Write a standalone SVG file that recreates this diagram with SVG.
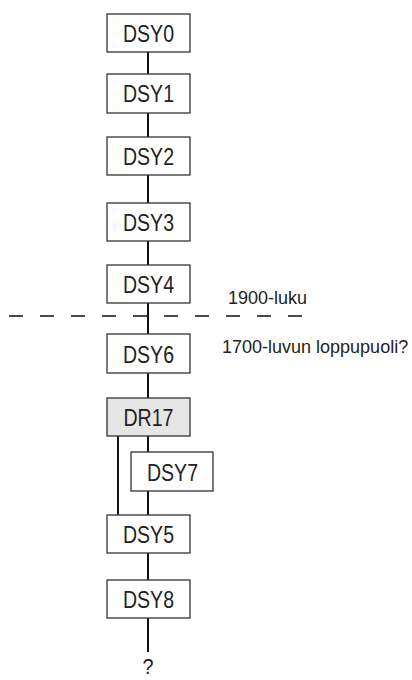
<svg xmlns="http://www.w3.org/2000/svg" width="412" height="680" viewBox="0 0 412 680">
<style>
.box{fill:#fff;stroke:#333;stroke-width:1.3}
.gray{fill:#e6e6e6}
.lbl{font-family:"Liberation Sans",Arial,sans-serif;font-size:24px;fill:#222;text-anchor:middle}
.note{font-family:"Liberation Sans",Arial,sans-serif;font-size:18px;fill:#222}
.q{font-family:"Liberation Sans",Arial,sans-serif;font-size:22px;fill:#222;text-anchor:middle}
.ln{stroke:#111;stroke-width:2;fill:none}
</style>
<rect width="412" height="680" fill="#fff"/>
<g id="connectors">
<line class="ln" x1="148" y1="52" x2="148" y2="74"/>
<line class="ln" x1="148" y1="113" x2="148" y2="137"/>
<line class="ln" x1="148" y1="175" x2="148" y2="203"/>
<line class="ln" x1="148" y1="241" x2="148" y2="265"/>
<line class="ln" x1="148" y1="303" x2="148" y2="334"/>
<line class="ln" x1="148" y1="373" x2="148" y2="398"/>
<line class="ln" x1="148" y1="436" x2="148" y2="452"/>
<line class="ln" x1="148" y1="491" x2="148" y2="515"/>
<line class="ln" x1="118" y1="436" x2="118" y2="515"/>
<line class="ln" x1="148" y1="553" x2="148" y2="580"/>
<line class="ln" x1="148" y1="618" x2="148" y2="652"/>
</g>
<g id="divider">
<line x1="9" y1="316" x2="304" y2="316" stroke="#111" stroke-width="1.6" stroke-dasharray="14 17"/>
<text class="note" x="228" y="304">1900-luku</text>
<text class="note" x="222" y="353">1700-luvun loppupuoli?</text>
</g>
<g id="DSY0"><rect class="box" x="107" y="14" width="83" height="38"/><text class="lbl" x="148.5" y="42" textLength="51" lengthAdjust="spacingAndGlyphs">DSY0</text></g>
<g id="DSY1"><rect class="box" x="107" y="74" width="83" height="39"/><text class="lbl" x="148.5" y="102" textLength="51" lengthAdjust="spacingAndGlyphs">DSY1</text></g>
<g id="DSY2"><rect class="box" x="107" y="137" width="83" height="38"/><text class="lbl" x="148.5" y="165" textLength="51" lengthAdjust="spacingAndGlyphs">DSY2</text></g>
<g id="DSY3"><rect class="box" x="107" y="203" width="83" height="38"/><text class="lbl" x="148.5" y="231" textLength="51" lengthAdjust="spacingAndGlyphs">DSY3</text></g>
<g id="DSY4"><rect class="box" x="107" y="265" width="83" height="38"/><text class="lbl" x="148.5" y="293" textLength="51" lengthAdjust="spacingAndGlyphs">DSY4</text></g>
<g id="DSY6"><rect class="box" x="107" y="334" width="83" height="39"/><text class="lbl" x="148.5" y="363" textLength="51" lengthAdjust="spacingAndGlyphs">DSY6</text></g>
<g id="DR17"><rect class="box gray" x="107" y="398" width="83" height="38"/><text class="lbl" x="148.5" y="426" textLength="50" lengthAdjust="spacingAndGlyphs">DR17</text></g>
<g id="DSY7"><rect class="box" x="131" y="452" width="82" height="39"/><text class="lbl" x="172.5" y="481" textLength="51" lengthAdjust="spacingAndGlyphs">DSY7</text></g>
<g id="DSY5"><rect class="box" x="107" y="515" width="83" height="38"/><text class="lbl" x="148.5" y="543" textLength="51" lengthAdjust="spacingAndGlyphs">DSY5</text></g>
<g id="DSY8"><rect class="box" x="107" y="580" width="83" height="38"/><text class="lbl" x="148.5" y="608" textLength="51" lengthAdjust="spacingAndGlyphs">DSY8</text></g>
<g id="unknown"><text class="q" x="148" y="674" textLength="11" lengthAdjust="spacingAndGlyphs">?</text></g>
</svg>
